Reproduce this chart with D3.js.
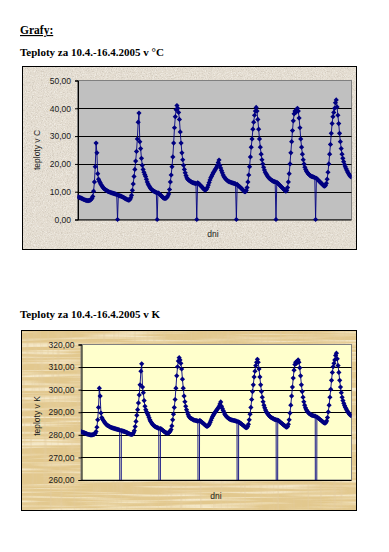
<!DOCTYPE html>
<html lang="cs">
<head>
<meta charset="UTF-8">
<title>Grafy</title>
<script src="https://d3js.org/d3.v7.min.js"></script>
<style>
  body { margin: 0; background: #fff; }
  svg { display: block; }
  .tick text { font-family: "Liberation Sans", Arial, sans-serif; font-size: 8.5px; fill: #1a1a1a; }
</style>
</head>
<body>
<svg id="page" width="389" height="552"></svg>
<script>
// half-hour readings in °C, one array per day (0 = missing midnight reading)
var den10 = [8.2,8.0,7.9,7.8,7.7,7.5,7.4,7.2,7.1,7.0,6.9,6.8,6.8,6.8,6.9,7.0,7.2,7.6,8.3,10.2,13.5,19.0,27.5,24.0,
  16.5,14.5,13.8,13.2,12.6,12.1,11.7,11.3,11.0,10.8,10.6,10.4,10.2,10.0,9.9,9.8,9.7,9.6,9.5,9.4,9.3,9.2,9.1,9.0];
var den11 = [0,8.7,8.6,8.5,8.4,8.3,8.1,8.0,7.8,7.6,7.4,7.3,7.1,7.0,7.0,7.2,7.8,8.7,10.5,12.8,15.5,18.0,21.0,24.5,
  29.0,35.0,38.3,28.0,25.5,22.0,19.5,18.0,17.0,16.2,15.5,14.5,13.5,12.8,12.2,11.7,11.2,10.9,10.6,10.4,10.2,10.0,9.9,9.7];
var den12 = [0,9.6,9.4,9.1,8.8,8.5,8.2,7.9,7.7,7.6,7.6,7.7,8.0,8.5,9.2,10.8,13.5,16.0,19.0,22.5,27.5,33.0,37.0,39.5,
  41.0,40.0,38.5,36.0,31.5,27.5,24.0,21.5,19.5,18.0,16.8,15.8,15.0,14.5,14.2,14.0,13.8,13.6,13.4,13.3,13.2,13.1,13.0,12.9];
var den13 = [0,13.2,13.0,12.7,12.4,12.1,11.8,11.5,11.1,10.8,10.6,10.7,11.0,11.6,12.4,13.3,14.2,15.0,15.6,16.2,16.8,17.3,17.8,18.3,
  18.8,19.5,20.5,21.4,19.5,18.5,17.6,16.8,16.0,15.4,15.0,14.6,14.3,14.0,13.8,13.6,13.5,13.4,13.3,13.2,13.1,13.0,12.9,12.8];
var den14 = [0,12.6,12.3,12.0,11.8,11.5,11.2,10.9,10.6,10.3,10.0,10.0,10.5,11.5,13.5,16.0,19.0,22.5,26.0,29.0,32.5,35.0,37.5,39.0,
  40.3,39.0,36.0,32.5,29.0,26.0,23.5,21.5,20.0,18.8,17.8,17.0,16.5,16.0,15.5,15.1,14.8,14.5,14.3,14.1,13.9,13.7,13.6,13.5];
var den15 = [0,13.4,13.1,12.8,12.5,12.2,11.9,11.6,11.3,11.0,10.7,10.4,10.2,10.5,11.5,13.5,16.5,20.0,24.0,28.0,32.0,35.5,38.0,39.0,
  38.5,39.5,40.0,39.0,36.5,33.0,29.0,26.0,23.5,21.5,20.0,18.8,18.0,17.4,16.9,16.5,16.2,15.9,15.7,15.5,15.4,15.3,15.2,15.1];
var den16 = [0,14.8,14.5,14.2,13.9,13.6,13.3,13.0,12.7,12.4,12.1,12.0,12.3,13.0,14.5,17.0,20.0,23.5,27.0,31.0,34.5,37.0,38.5,40.0,
  42.0,43.0,40.5,37.5,34.5,31.0,28.0,25.5,23.5,22.0,20.8,19.8,19.0,18.3,17.6,17.0,16.5,16.0,15.6,15.3];

var ticksC = [0, 10, 20, 30, 40, 50];
var ticksK = [260, 270, 280, 290, 300, 310, 320];
var kelvin = 273.15;

var teplotyC = [].concat(den10, den11, den12, den13, den14, den15, den16);
// same readings in kelvin; missing readings stay 0
var teplotyK = teplotyC.map(function(t) { return t === 0 ? 0 : t + kelvin; });

var svg = d3.select("#page");
var defs = svg.append("defs");

// textures (granite / papyrus) from turbulence noise
function noiseFilter(id, freq, oct, seed, rgb, a, b) {
  var f = defs.append("filter").attr("id", id)
      .attr("x", 0).attr("y", 0).attr("width", 1).attr("height", 1);
  f.append("feTurbulence").attr("type", "fractalNoise")
      .attr("baseFrequency", freq).attr("numOctaves", oct).attr("seed", seed);
  f.append("feColorMatrix").attr("type", "matrix")
      .attr("values", "0 0 0 0 " + rgb[0] + " 0 0 0 0 " + rgb[1] + " 0 0 0 0 " + rgb[2] + " " + a + " 0 0 0 " + b);
}
noiseFilter("granDark", "0.8", 2, 3, [0.55, 0.5, 0.43], 3.2, -1.55);
noiseFilter("granLight", "0.9", 2, 7, [1, 1, 0.98], 3.0, -1.45);
noiseFilter("papLight", "0.012 0.35", 2, 5, [0.97, 0.91, 0.74], 3.0, -1.35);
noiseFilter("papDark", "0.3 0.012", 2, 9, [0.76, 0.6, 0.35], 3.0, -1.5);
noiseFilter("papSpot", "0.06", 3, 11, [0.82, 0.66, 0.4], 2.4, -1.2);

var fmt = d3.formatLocale({decimal: ",", thousands: " ", grouping: [3], currency: ["", ""]}).format(".2f");

function drawChart(c) {
  var g = svg.append("g");

  // chart area with texture
  g.append("rect").attr("x", c.frame[0]).attr("y", c.frame[1])
      .attr("width", c.frame[2]).attr("height", c.frame[3]).attr("fill", c.bg);
  c.textures.forEach(function(t) {
    g.append("rect").attr("x", c.frame[0]).attr("y", c.frame[1])
        .attr("width", c.frame[2]).attr("height", c.frame[3])
        .attr("filter", "url(#" + t[0] + ")").attr("opacity", t[1]);
  });
  g.append("rect").attr("x", c.frame[0] + 0.5).attr("y", c.frame[1] + 0.5)
      .attr("width", c.frame[2] - 1).attr("height", c.frame[3] - 1)
      .attr("fill", "none").attr("stroke", "#000");

  var left = c.plot[0], top = c.plot[1], right = c.plot[2], bottom = c.plot[3];

  g.append("rect").attr("x", left).attr("y", top)
      .attr("width", right - left).attr("height", bottom - top)
      .attr("fill", c.plotFill).attr("stroke", "#808080");

  var x = d3.scalePoint().domain(d3.range(c.values.length)).range([left, right]).padding(0.5);
  var y = d3.scaleLinear().domain(d3.extent(c.ticks)).range([bottom, top]);

  // gridlines
  g.selectAll("line.grid").data(c.ticks.slice(1, -1)).enter().append("line")
      .attr("class", "grid")
      .attr("x1", left).attr("x2", right)
      .attr("y1", function(d) { return Math.round(y(d)) + 0.5; })
      .attr("y2", function(d) { return Math.round(y(d)) + 0.5; })
      .attr("stroke", "#000");

  g.append("line").attr("x1", left).attr("x2", right)
      .attr("y1", bottom + 0.5).attr("y2", bottom + 0.5).attr("stroke", "#000");

  var ax = g.append("g").attr("transform", "translate(" + (left + 0.5) + ",0)")
      .call(d3.axisLeft(y).tickValues(c.ticks).tickSize(3).tickPadding(4).tickFormat(fmt));
  ax.select(".domain").attr("stroke", "#000");
  ax.selectAll(".tick line").attr("stroke", "#000");

  // axis titles
  g.append("text").attr("transform", "translate(" + c.yTitle[0] + "," + c.yTitle[1] + ") rotate(-90)")
      .attr("text-anchor", "middle").attr("dy", "0.35em")
      .style("font-family", "Liberation Sans, Arial, sans-serif").style("font-size", "8.5px")
      .attr("fill", "#1a1a1a").text(c.yLabel);
  g.append("text").attr("x", c.xTitle[0]).attr("y", c.xTitle[1])
      .attr("text-anchor", "middle")
      .style("font-family", "Liberation Sans, Arial, sans-serif").style("font-size", "8.5px")
      .attr("fill", "#1a1a1a").text("dni");

  // series, clipped to the plot area (markers on the bottom axis may overhang)
  defs.append("clipPath").attr("id", c.id + "clip").append("rect")
      .attr("x", left).attr("y", top - 4).attr("width", right - left)
      .attr("height", bottom - top + 4 + c.overhang);

  var series = g.append("g").attr("clip-path", "url(#" + c.id + "clip)");

  var line = d3.line()
      .x(function(d, i) { return x(i); })
      .y(function(d) { return y(d); });

  series.append("path").datum(c.values)
      .attr("d", line).attr("fill", "none")
      .attr("stroke", "#000080").attr("stroke-width", 0.9);

  var r = 2.6;
  series.selectAll("path.mark").data(c.values).enter().append("path")
      .attr("class", "mark")
      .attr("d", function(d, i) {
        var px = x(i), py = y(d);
        return "M" + px + "," + (py - r) + "L" + (px + r) + "," + py + "L" + px + "," + (py + r) + "L" + (px - r) + "," + py + "Z";
      })
      .attr("fill", "#000080");
}

// page headings
svg.append("text").attr("x", 20).attr("y", 34)
    .style("font-family", "Liberation Serif, Times New Roman, serif").style("font-size", "11.5px")
    .style("font-weight", "bold").style("text-decoration", "underline").text("Grafy:");
svg.append("text").attr("x", 20).attr("y", 56)
    .style("font-family", "Liberation Serif, Times New Roman, serif").style("font-size", "11px")
    .style("font-weight", "bold").text("Teploty za 10.4.-16.4.2005 v °C");
svg.append("text").attr("x", 20).attr("y", 318)
    .style("font-family", "Liberation Serif, Times New Roman, serif").style("font-size", "11px")
    .style("font-weight", "bold").text("Teploty za 10.4.-16.4.2005 v K");

drawChart({
  id: "c",
  frame: [22, 66, 335, 184],
  bg: "#e4ddd1",
  textures: [["granDark", 0.55], ["granLight", 0.5]],
  plot: [77.5, 80.5, 351.5, 219.5],
  plotFill: "#c0c0c0",
  overhang: 4,
  ticks: ticksC,
  values: teplotyC,
  yLabel: "teploty v C",
  yTitle: [37, 150],
  xTitle: [213, 237]
});

drawChart({
  id: "k",
  frame: [21, 330, 336, 181],
  bg: "#e2c88e",
  textures: [["papLight", 0.75], ["papDark", 0.55], ["papSpot", 0.4]],
  plot: [81, 344.5, 351.5, 480],
  plotFill: "#ffffcc",
  overhang: 0,
  ticks: ticksK,
  values: teplotyK,
  yLabel: "teploty v K",
  yTitle: [37, 416],
  xTitle: [216, 499]
});
</script>
</body>
</html>
